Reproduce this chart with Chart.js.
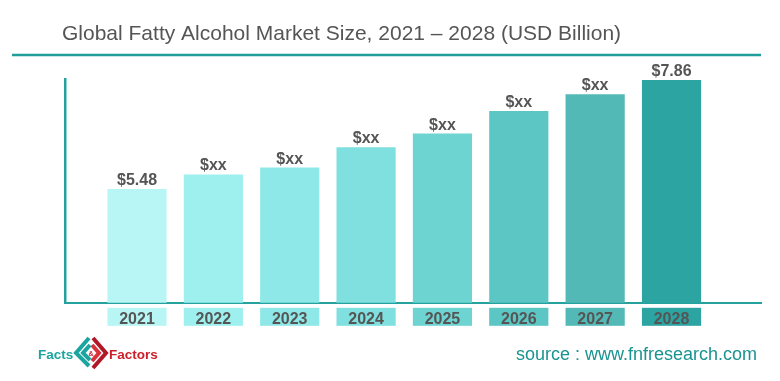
<!DOCTYPE html>
<html>
<head>
<meta charset="utf-8">
<script src="https://cdn.jsdelivr.net/npm/chart.js@4.4.1/dist/chart.umd.min.js"></script>
<style>
  html, body { margin: 0; padding: 0; background: #ffffff; }
  #wrap { width: 780px; height: 381px; position: relative; }
</style>
</head>
<body>
<div id="wrap"><canvas id="c" width="780" height="381"></canvas></div>
<script>
// ---- data ----
const years = [2021, 2022, 2023, 2024, 2025, 2026, 2027, 2028];
const yearLabels = ['2021', '2022', '2023', '2024', '2025', '2026', '2027', '2028'];
const marketSize = [5.48, 5.80, 5.95, 6.39, 6.69, 7.18, 7.55, 7.86];
const valueLabels = ['$5.48', '$xx', '$xx', '$xx', '$xx', '$xx', '$xx', '$7.86'];
const titleText = 'Global Fatty Alcohol Market Size, 2021 \u2013 2028 (USD Billion)';
const sourceText = 'source : www.fnfresearch.com';

// ---- styles ----
const barColors = ['#b8f6f5', '#9ef0ef', '#8de8e7', '#7fe0df', '#6dd4d2', '#5cc6c4', '#53b9b7', '#2ca4a2'];
const teal = '#26a29e';
const textGray = '#555555';
const FONT = '"Liberation Sans", Arial, sans-serif';

const decorPlugin = {
  id: 'decor',
  beforeDraw(chart) {
    const ctx = chart.ctx;
    const area = chart.chartArea;
    ctx.save();
    // title
    ctx.fillStyle = textGray;
    ctx.font = '21px ' + FONT;
    ctx.textBaseline = 'alphabetic';
    ctx.textAlign = 'left';
    ctx.fillText(titleText, 62, 40);
    // separator line
    ctx.strokeStyle = '#1f9e9b';
    ctx.lineWidth = 2.5;
    ctx.beginPath();
    ctx.moveTo(12, 55);
    ctx.lineTo(761, 55);
    ctx.stroke();
    // category boxes under the axis
    const meta = chart.getDatasetMeta(0);
    meta.data.forEach((el, i) => {
      ctx.fillStyle = barColors[i];
      ctx.fillRect(el.x - el.width / 2, area.bottom + 5, el.width, 18);
    });
    // source
    ctx.fillStyle = '#1a9490';
    ctx.font = '18px ' + FONT;
    ctx.fillText(sourceText, 516, 360);
    // logo
    ctx.font = 'bold 13.5px ' + FONT;
    ctx.fillStyle = '#1aa5a0';
    ctx.fillText('Facts', 38, 359);
    ctx.fillStyle = '#cc1f2a';
    ctx.fillText('Factors', 109, 359);
    // logo icon
    const cx = 91, cy = 353;
    ctx.lineWidth = 4;
    ctx.lineCap = 'butt';
    ctx.strokeStyle = '#1aa5a0';
    ctx.beginPath();
    ctx.moveTo(cx - 2, cy - 15); ctx.lineTo(cx - 15, cy); ctx.lineTo(cx - 2, cy + 13);
    ctx.stroke();
    ctx.beginPath();
    ctx.moveTo(cx - 1, cy - 8); ctx.lineTo(cx - 8, cy); ctx.lineTo(cx - 1, cy + 7);
    ctx.stroke();
    ctx.strokeStyle = '#b0182a';
    ctx.beginPath();
    ctx.moveTo(cx + 2, cy - 15); ctx.lineTo(cx + 15, cy); ctx.lineTo(cx + 2, cy + 15);
    ctx.stroke();
    ctx.strokeStyle = '#d8323c';
    ctx.beginPath();
    ctx.moveTo(cx + 1, cy - 8); ctx.lineTo(cx + 8, cy); ctx.lineTo(cx + 1, cy + 8);
    ctx.stroke();
    ctx.fillStyle = '#cc1f2a';
    ctx.font = 'bold 7px ' + FONT;
    ctx.textAlign = 'center';
    ctx.fillText('&', cx, cy + 3);
    ctx.restore();
  },
  afterDatasetsDraw(chart) {
    const ctx = chart.ctx;
    const meta = chart.getDatasetMeta(0);
    ctx.save();
    ctx.fillStyle = textGray;
    ctx.font = 'bold 16px ' + FONT;
    ctx.textAlign = 'center';
    ctx.textBaseline = 'alphabetic';
    meta.data.forEach((el, i) => {
      ctx.fillText(valueLabels[i], el.x, el.y - 4);
    });
    ctx.restore();
  }
};

new Chart(document.getElementById('c'), {
  type: 'bar',
  data: {
    datasets: [{
      data: years.map((x, i) => ({ x: x, y: marketSize[i] })),
      backgroundColor: barColors,
      borderWidth: 0,
      categoryPercentage: 1,
      barPercentage: 0.775
    }]
  },
  options: {
    responsive: false,
    animation: false,
    devicePixelRatio: 1,
    layout: { padding: { left: 65, right: 19, top: 79, bottom: 45 } },
    plugins: { legend: { display: false }, tooltip: { enabled: false }, title: { display: false } },
    scales: {
      x: {
        type: 'linear',
        offset: false,
        min: 2020.057,
        max: 2029.172,
        afterBuildTicks: (scale) => { scale.ticks = years.map(v => ({ value: v })); },
        grid: { display: false, drawTicks: false },
        border: { display: true, color: teal, width: 2 },
        ticks: {
          padding: 7,
          autoSkip: false,
          maxRotation: 0,
          color: textGray,
          font: { family: FONT, size: 16, weight: 'bold' },
          callback: (v) => { const i = years.indexOf(v); return i >= 0 ? yearLabels[i] : ''; }
        }
      },
      y: {
        min: 3,
        max: 7.88,
        grid: { display: false, drawTicks: false },
        border: { display: true, color: teal, width: 2.5 },
        ticks: { display: false }
      }
    }
  },
  plugins: [decorPlugin]
});
</script>
</body>
</html>
